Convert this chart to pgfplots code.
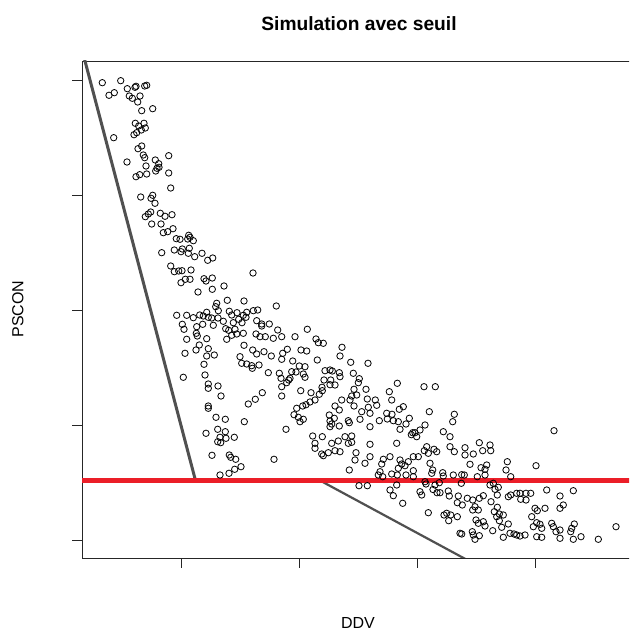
\documentclass[border=0pt]{standalone}
\usepackage{pgfplots}
\usepackage{pgfplotstable}
\pgfplotsset{compat=1.18}
\usepackage{fontspec}
\setmainfont{Liberation Sans}
\definecolor{linegray}{RGB}{80,80,80}
\definecolor{seuilred}{RGB}{235,30,40}

\pgfplotstableread{
ddv pscon
102.3 548.3
120.7 550.3
109 535.7
114.3 538.3
127.3 542.3
135 543.7
136 544.7
144.7 545
146.7 545.7
129.3 535
132.3 532.7
140 535
137.7 529
141.7 520.3
152.7 522.3
135.3 507.7
144 507.7
138.7 505
145.3 503
141.3 501
136.7 498.3
134 496.3
113.7 493.3
138 482.3
141.7 485
143.3 476
144.7 473.3
155.3 471
168.7 475.3
127 469
158.7 467.3
146 465
157 462.7
159 463.7
155.7 460
168.7 458
139.7 456.3
136 454.3
146.7 457
170.7 443
140.7 434
152.7 435.7
151 432.7
155 427.7
150.7 419
148.3 417
145.3 414.3
160.3 417.7
165 414.7
172 416.3
151.7 407
161 407
163.3 398.3
167.7 399.3
173 402.3
176.3 392.3
180 391.7
188.7 395.7
190 393.7
187.7 392
193.3 390.3
161.7 378.3
174.3 381
182.3 382
189.3 382.7
181 379.3
188.3 377.7
194.7 374.3
202 377.7
207.7 370.7
212.7 373
170.7 365
174.3 359.3
178.7 360
182 360.3
191 361
181 348.3
185.3 351.7
190 351.7
204 352.3
206 350
212.3 353
212.3 341.7
198 339
224 345
253 358
216.7 327.7
227.3 330.7
244 330
276.3 325
176.7 315.7
186.7 315.7
193.3 313.3
199.7 316
203.3 315
206.7 318.7
208.3 313.7
215.7 324.3
218.3 320.3
218 313
211.7 313
229.3 319.7
231.7 316
237 318.3
243.3 315.7
246.7 318.7
253.3 320.3
257.7 321
246 313.7
238.7 311.7
182.3 306.7
184 301.7
196.7 304.3
202.7 306.7
213.3 305.7
223.3 309.7
233.3 308.3
242 308.3
256.7 310.3
261.7 307
269.3 307
225.7 302.3
228.7 300.7
235 301.7
236.7 297
243.3 297.7
231.7 295.7
226.7 291.7
196.3 297.7
197.3 295
186.7 291.7
206.7 292.3
199.3 286
208.3 282.3
196 281
185 277.7
206.7 275
214.3 276
204 266.7
205 256
183.3 253.7
256 297
260 294.3
261.7 305
265.3 294.3
273.3 292.7
277.7 301
281.7 294.3
244 285.7
252.7 281
256.7 277
264 279.3
271.3 275
240 274.3
241.7 267.7
246.7 267
251.7 265.3
259 266
252.3 262.7
268.3 258.3
279.3 257.7
282.7 277.7
287.3 281.7
281.7 271.7
281 252.7
295 294.3
307.3 301.7
316 292
318.3 288.3
323.3 287.7
301 281
306.7 280
292.7 270
317.3 271
340 275
342 283.7
350.7 268.7
368 267.7
299.3 265
305 264.3
291.7 259.3
296 259
303.3 257
325 260.3
330 261
332.3 260
339.3 258.3
353.3 257.7
359.3 252.3
305 253.7
340 254.3
290 252.7
208.3 247
208.3 242.7
218 245
221 235
208.3 225
208.3 222.7
216 213.7
225.3 211.7
244.3 209.3
248.3 227
255.3 231.7
262.3 238.3
281.7 235
206 197.7
217.7 201.7
225.3 199.3
220 193.7
226 192.7
217.7 189.3
220.7 188.3
234.3 193.7
286 201.7
212 175.7
229.3 176
230.7 173.7
235.7 171.7
274 171.7
241 164.3
234.7 161.7
229 157.7
220 156
300.7 240.3
311 238.3
281.7 244.3
296.7 222.7
302.7 225
306 226.3
310 229
315 231
294 216.3
298.3 213.7
303.3 211.7
300 209.3
312.7 195
315 187.7
315 182.7
288.7 251
286.7 248.3
324 251
330.7 251
330 246.3
335 246
322 243.7
322.3 240.3
319.3 236.7
354 241.7
358.3 248.3
366 241.7
351.7 235
356.7 236
350 231
354 225
341.7 231
335 225
339.3 221
329.3 216
334.3 212.7
330 210
331.7 207
330 204.3
339.3 205
348.3 210.3
349.3 208.3
360 211.7
370 217.7
361.7 219.3
368.3 223.7
367.3 232
375.3 231
376.7 225.7
370 204.3
379.3 210.3
386.7 217.7
392 216.7
387.3 212
393.3 210.3
398.3 209.3
406 207
400 201.7
396.7 187.7
389.3 239.3
391.7 231
397.3 247.7
399.3 221.7
403.3 224.3
409.3 212.7
412.7 198.3
411.3 196.3
415 198.3
420 201
425 206
416.7 194.3
424 244.3
435.3 244.3
429.3 219.3
434 181.7
428.3 177.7
436.7 179.3
424.3 180.3
418.3 174.3
408.3 169.3
413.3 174.3
400 171
401.7 167
405 165.3
398.3 162.7
391.7 157
397.3 156
406 156
413.3 160.3
413.3 154.3
381.7 167
383.3 171.7
390 174.3
380 159.3
378.3 156
382.7 154.3
365 167.7
370 174.3
355 171
356 178.3
349.3 161
359 145.3
367.3 145.3
351.7 188.7
348.3 187.7
370 186.7
321.7 177
323.3 175.3
328.3 178.3
335 180.3
340 179.3
331.7 187.7
338.3 190
345 194.3
351.7 195
322.3 194.3
426.7 184.3
432.7 161
431.7 157.7
425 149.3
426 147
435 146
439.3 148.3
430 167.7
396.7 146
390 141
393.3 135.3
402.7 127.7
420 139.3
421.7 136
428.3 118.3
433 141.5
437 138.3
454.3 216.7
452.7 209.3
443.3 199.3
450 194.3
450 184.3
454.3 179.3
465 183.3
465 176
473.3 177
479.3 188.3
554 200.3
482.7 180.3
490 186
490.7 180.3
507.3 169.3
506 161
481 163.3
485 161.7
486.7 166
536 165.3
470 166.7
442.7 158.3
443.3 155
453.3 156
461.7 156.3
464.3 156
461.3 147.7
477.3 154.3
485 156
510.7 154.3
440 138.3
448.3 140
449.3 135
458.3 135
467.3 132.7
462.3 126
457.3 128.3
472.7 131
479.3 132.7
483.3 135.3
490 146
493.3 147.7
498.3 143.7
495 141.7
497.3 136
508.3 134.3
510.7 136
516.7 137.7
520 137.7
526 137.7
530.7 137.7
520.7 131.7
526 131
546.7 141
560 135
563.3 126
560 122.7
573.3 140.3
446.7 117.7
450.7 116
457.3 114.3
448.7 110.3
444 116
460 97.7
461.7 97
472.3 99.3
473.3 96
475 91.7
479.3 95.3
476 111
478.3 107.7
485 105
483.3 109.3
492.7 100.3
496.7 114.3
494.3 119.3
497.3 123.7
499.3 117
503.3 116
508.3 107
501.7 103.7
499.3 110.3
510 97.7
503.3 93.7
514 97
516.7 96
520 95
525 96
531.7 114.3
535 122.7
537.3 120.3
533.3 104.3
536.7 108.3
540 106.7
541.7 102.7
536.7 94.3
541.7 93.7
551.7 107.7
553.3 104.3
560 101
556 99.3
560 92.7
571.7 102.7
574.3 107
570.7 99.3
573.3 91.7
581 94.3
598.3 91.7
616 104.3
475 124.3
478.3 121
472.7 121
545 122.7
491 129.3
}\scatterdata

\begin{document}
\begin{tikzpicture}[x=1pt,y=1pt]
\useasboundingbox (0,0) rectangle (629,631);
\clip (0,0) rectangle (629,631);
\begin{axis}[
  at={(82,73)}, anchor=south west,
  scale only axis, width=552pt, height=497pt,
  xmin=82, xmax=634, ymin=73, ymax=570,
  axis line style={black!85, line width=0.9pt},
  xtick={181,299,417,535}, ytick={91,206,321,436,551},
  xticklabels={}, yticklabels={},
  xtick pos=bottom, ytick pos=left,
  tick align=outside, major tick length=9.6pt,
  tick style={black!85, line width=0.9pt},
]
\addplot[only marks, mark=o, mark size=3.2pt, mark options={line width=0.8pt, draw=black}]
  table[x=ddv, y=pscon] {\scatterdata};
\addplot[draw=linegray, line width=3pt, mark=none] coordinates {(82.1,581) (195.5,150.5)};
\addplot[draw=linegray, line width=2.2pt, mark=none] coordinates {(320,150.5) (463.5,73) (470,69.5)};
\addplot[draw=seuilred, line width=5pt, mark=none] coordinates {(82,150.5) (640,150.5)};
\end{axis}
\node[anchor=base, font=\fontsize{19.2}{23}\selectfont\bfseries] at (359,600.5) {Simulation avec seuil};
\node[anchor=base, inner sep=0pt, font=\fontsize{16}{19}\selectfont] at (358,2) {DDV};
\node[anchor=base, rotate=90, font=\fontsize{16}{19}\selectfont] at (23.3,322) {PSCON};
\end{tikzpicture}
\end{document}
